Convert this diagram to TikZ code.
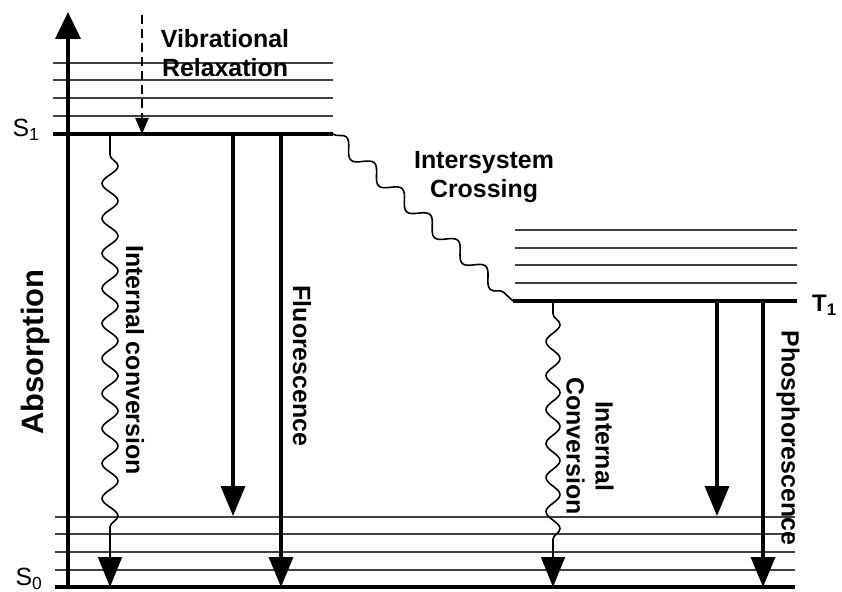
\documentclass[tikz,border=0pt]{standalone}
\usepackage{fontspec}
\setmainfont{Liberation Sans}
\usetikzlibrary{arrows.meta,decorations.pathmorphing}
\begin{document}
\begin{tikzpicture}[x=1bp,y=-1bp,
  level/.style={line width=1.4bp, draw=black!75},
  state/.style={line width=4bp},
  trans/.style={line width=3.5bp,-{Triangle[length=30bp,width=24bp]}},
  wavy/.style={line width=1.6bp, decorate, decoration={snake,segment length=35bp,amplitude=8bp}},
  isc/.style={line width=1.6bp, decorate, decoration={snake,segment length=38bp,amplitude=7bp}},
  lab/.style={font=\bfseries\fontsize{25}{29}\selectfont, align=center, inner sep=0pt},
  slab/.style={font=\fontsize{25}{28}\selectfont, inner sep=0pt},
]
\useasboundingbox (0,0) rectangle (842,592);
\fill[white] (0,0) rectangle (842,592);

% vibrational levels of S1
\foreach \y in {63,80,98,116} \draw[level] (53,\y) -- (333,\y);
% vibrational levels of T1
\foreach \y in {230,248,265,283} \draw[level] (515,\y) -- (797,\y);
% vibrational levels of S0
\foreach \y in {517,534,552,570} \draw[level] (55,\y) -- (795,\y);

% electronic states
\coordinate (s1l) at (53,134);  \coordinate (s1r) at (333,134);
\coordinate (t1l) at (513,301); \coordinate (t1r) at (797,301);
\coordinate (s0l) at (55,587);  \coordinate (s0r) at (795,587);
\draw[state] (s1l) -- (s1r);
\draw[state] (t1l) -- (t1r);
\draw[state] (s0l) -- (s0r);

% absorption axis
\coordinate (absb) at (68,589);
\coordinate (abst) at (68,12);
\draw[line width=4bp,-{Triangle[length=27bp,width=25bp]}] (absb) -- (abst);

% vibrational relaxation (dashed)
\coordinate (vr1) at (142,15);
\coordinate (vr2) at (142,134);
\draw[line width=2.4bp,dash pattern=on 9bp off 5bp,-{Triangle[length=16bp,width=13bp]}] (vr1) -- (vr2);

% internal conversion S1 -> S0
\coordinate (ica) at (110,134);
\coordinate (icb) at (110,155);
\coordinate (icc) at (110,540);
\coordinate (icd) at (110,587);
\draw[line width=1.6bp] (ica) -- (icb);
\draw[wavy] (icb) -- (icc);
\draw[trans,line width=1.6bp] (icc) -- (icd);

% fluorescence
\coordinate (f1a) at (233,134); \coordinate (f1b) at (233,516);
\coordinate (f2a) at (281,134); \coordinate (f2b) at (281,587);
\draw[trans] (f1a) -- (f1b);
\draw[trans] (f2a) -- (f2b);

% intersystem crossing
\draw[isc] (s1r) -- (t1l);

% internal conversion T1 -> S0
\coordinate (tca) at (553,301);
\coordinate (tcb) at (553,314);
\coordinate (tcc) at (553,540);
\coordinate (tcd) at (553,587);
\draw[line width=1.6bp] (tca) -- (tcb);
\draw[wavy,decoration={amplitude=7bp,segment length=34bp}] (tcb) -- (tcc);
\draw[trans,line width=1.6bp] (tcc) -- (tcd);

% phosphorescence
\coordinate (p1a) at (717,301); \coordinate (p1b) at (717,516);
\coordinate (p2a) at (763,301); \coordinate (p2b) at (763,587);
\draw[trans] (p1a) -- (p1b);
\draw[trans] (p2a) -- (p2b);

% labels
\node[slab] (S1) at (26,130) {S\textsubscript{1}};
\node[slab] (S0) at (29,579) {S\textsubscript{0}};
\node[slab,font=\bfseries\fontsize{24}{28}\selectfont,anchor=west] (T1) at (812,305) {T\textsubscript{1}};
\node[lab] (vrl) at (225,53) {Vibrational\\Relaxation};
\node[lab] (iscl) at (484,177) {Intersystem\\Crossing};
\node[lab,font=\bfseries\fontsize{31}{36}\selectfont,rotate=90] (absl) at (36,352) {Absorption};
\node[lab,rotate=-90] (icl) at (135,360) {Internal conversion};
\node[lab,rotate=-90] (fll) at (302,366) {Fluorescence};
\node[lab,rotate=-90] (tcl) at (590,446) {Internal\\Conversion};
\node[lab,rotate=-90] (phl) at (788,438) {Phosphorescence};
\end{tikzpicture}
\end{document}
